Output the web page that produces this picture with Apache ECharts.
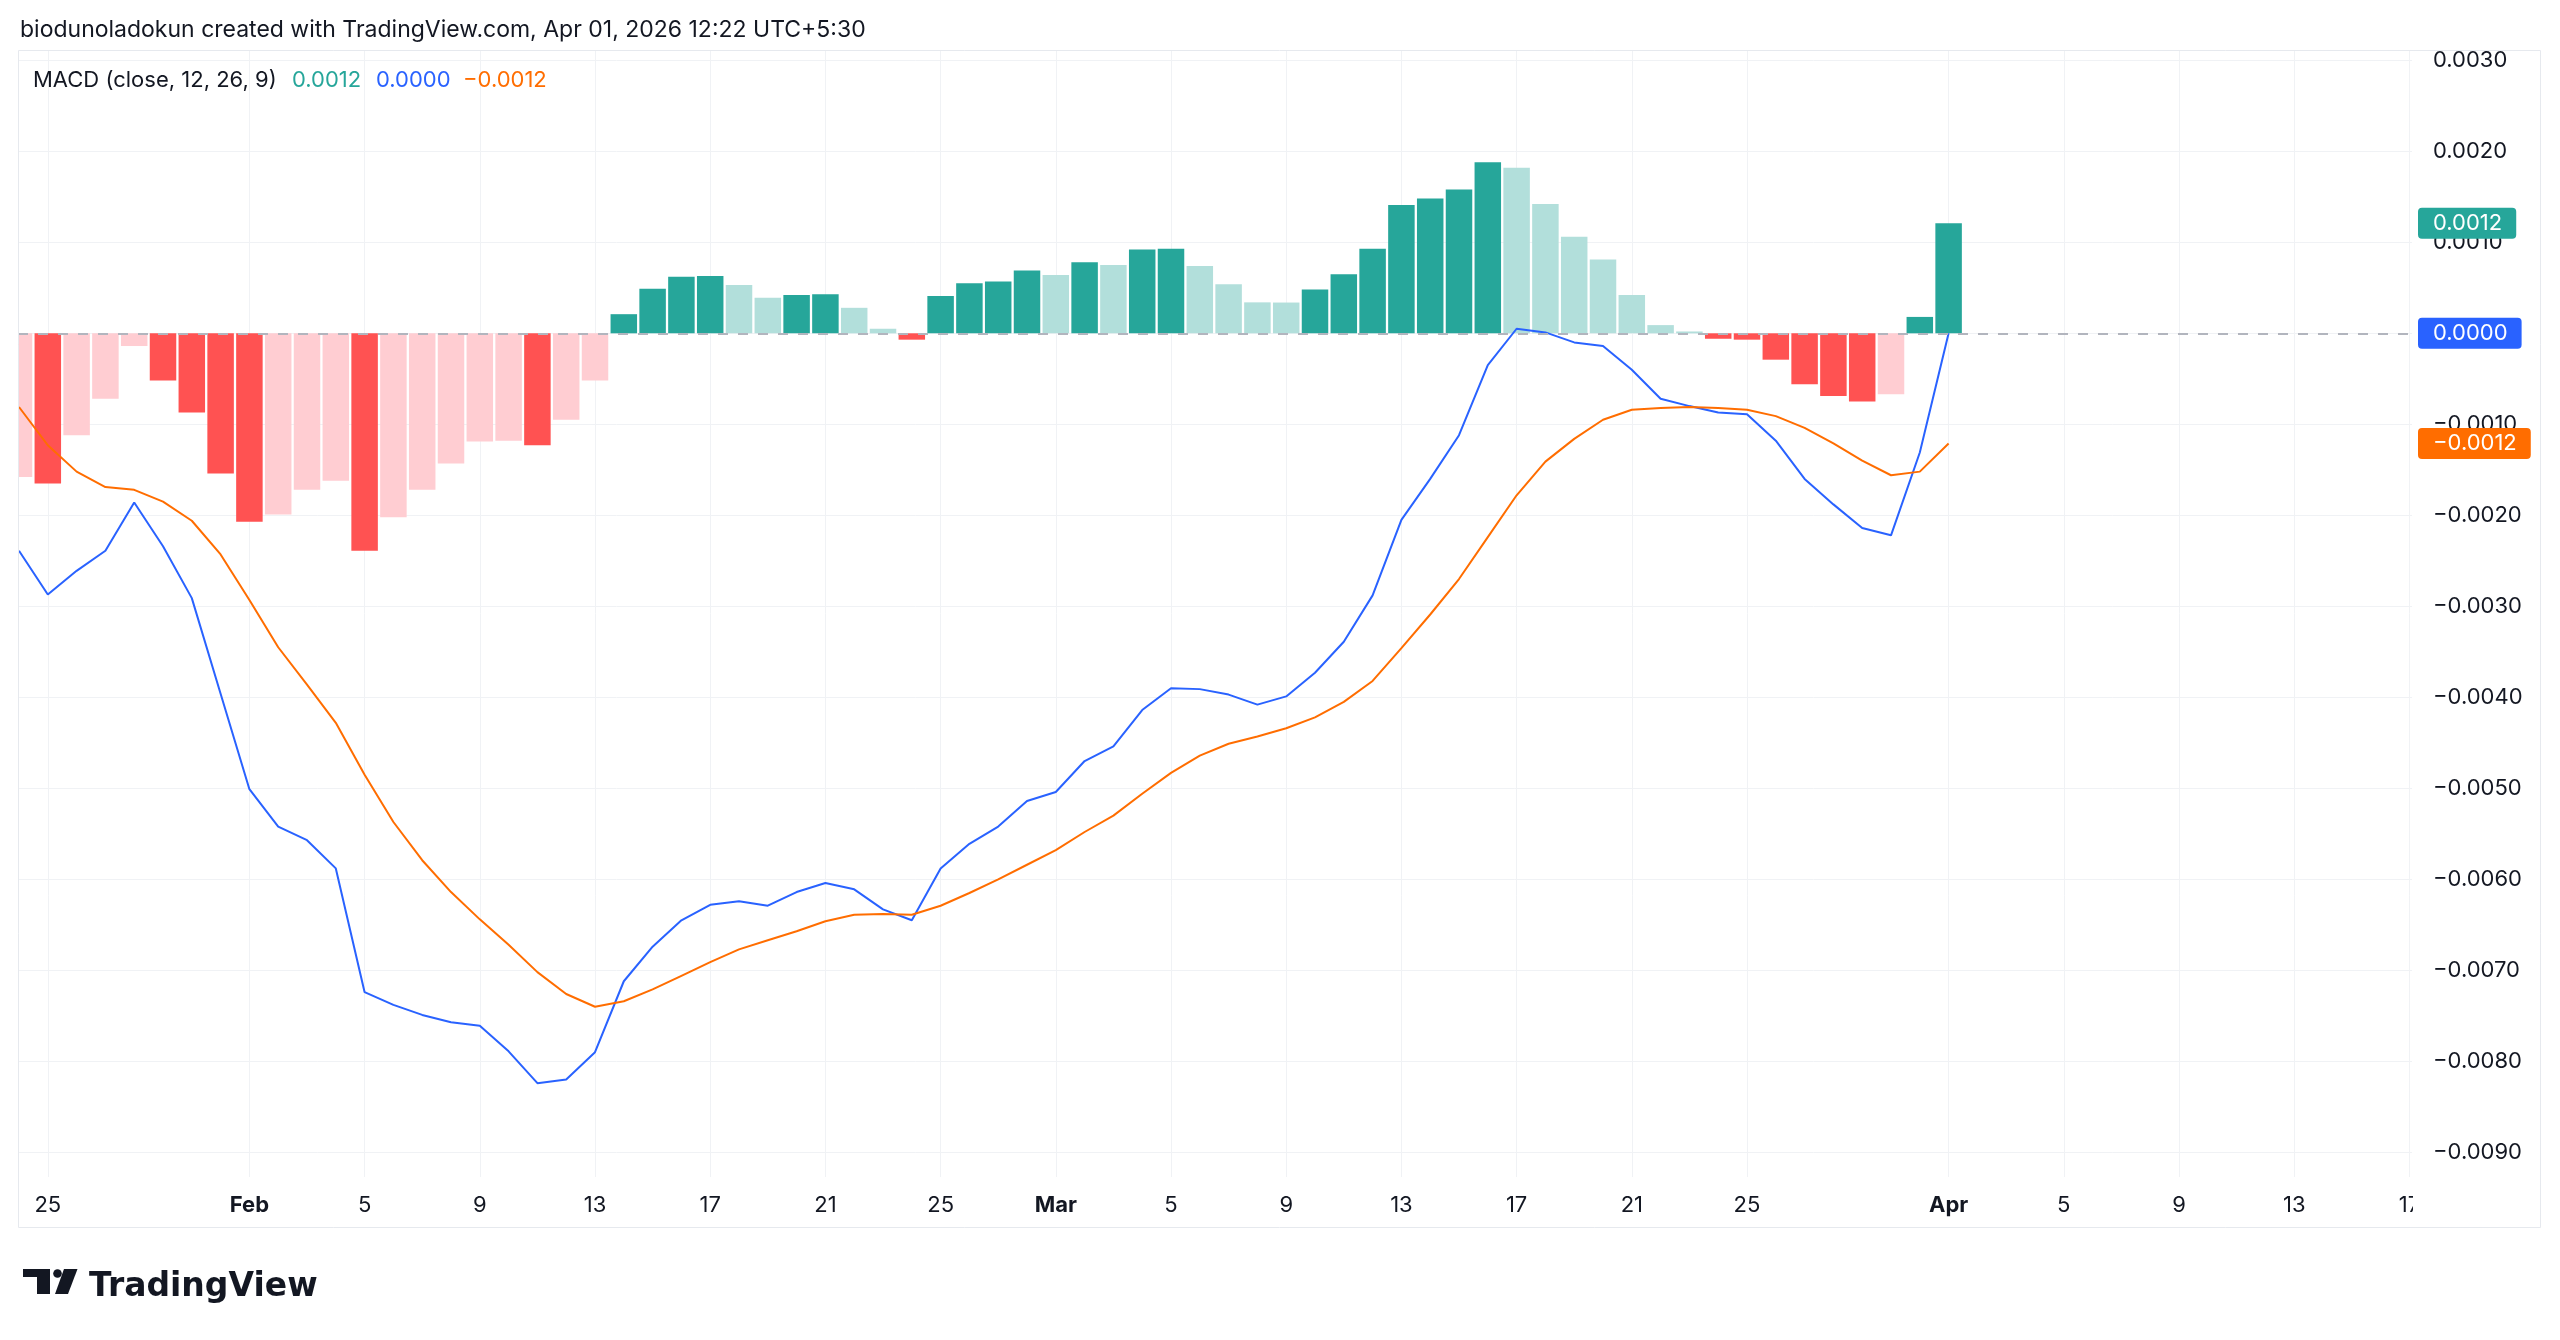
<!DOCTYPE html>
<html>
<head>
<meta charset="utf-8">
<script src="https://cdn.jsdelivr.net/npm/echarts@6/dist/echarts.min.js"></script>
<style>
html,body{margin:0;padding:0;background:#ffffff;}
#chart{width:2560px;height:1340px;}
</style>
</head>
<body>
<div id="chart"></div>
<script>
// ---------------- data ----------------
const dates = [
  '2026-01-24','2026-01-25','2026-01-26','2026-01-27','2026-01-28','2026-01-29','2026-01-30','2026-01-31',
  '2026-02-01','2026-02-02','2026-02-03','2026-02-04','2026-02-05','2026-02-06','2026-02-07','2026-02-08',
  '2026-02-09','2026-02-10','2026-02-11','2026-02-12','2026-02-13','2026-02-14','2026-02-15','2026-02-16',
  '2026-02-17','2026-02-18','2026-02-19','2026-02-20','2026-02-21','2026-02-22','2026-02-23','2026-02-24',
  '2026-02-25','2026-02-26','2026-02-27','2026-02-28','2026-03-01','2026-03-02','2026-03-03','2026-03-04',
  '2026-03-05','2026-03-06','2026-03-07','2026-03-08','2026-03-09','2026-03-10','2026-03-11','2026-03-12',
  '2026-03-13','2026-03-14','2026-03-15','2026-03-16','2026-03-17','2026-03-18','2026-03-19','2026-03-20',
  '2026-03-21','2026-03-22','2026-03-23','2026-03-24','2026-03-25','2026-03-26','2026-03-27','2026-03-28',
  '2026-03-29','2026-03-30','2026-03-31','2026-04-01'
];

const macdLine = [
  -0.00239,-0.00287,-0.00261,-0.00239,-0.00186,-0.00234,-0.00291,-0.00396,
  -0.00501,-0.00542,-0.00557,-0.00588,-0.00724,-0.00738,-0.00749,-0.00757,
  -0.00761,-0.00789,-0.00824,-0.00820,-0.00790,-0.00712,-0.00674,-0.00645,
  -0.00628,-0.00624,-0.00629,-0.00614,-0.00604,-0.00611,-0.00633,-0.00645,
  -0.00588,-0.00561,-0.00542,-0.00514,-0.00504,-0.00470,-0.00454,-0.00414,
  -0.00390,-0.00391,-0.00397,-0.00408,-0.00399,-0.00373,-0.00339,-0.00288,
  -0.00205,-0.00160,-0.00112,-0.00035,0.00005,0.00001,-0.00010,-0.00014,
  -0.00040,-0.00072,-0.00080,-0.00087,-0.00089,-0.00118,-0.00160,-0.00188,
  -0.00214,-0.00222,-0.00131,0.00000
];

const signalLine = [
  -0.00081,-0.00123,-0.00152,-0.00169,-0.00172,-0.00185,-0.00206,-0.00243,
  -0.00293,-0.00345,-0.00386,-0.00428,-0.00485,-0.00537,-0.00579,-0.00614,
  -0.00644,-0.00672,-0.00702,-0.00726,-0.00740,-0.00734,-0.00721,-0.00706,
  -0.00691,-0.00677,-0.00667,-0.00657,-0.00646,-0.00639,-0.00638,-0.00639,
  -0.00629,-0.00615,-0.00600,-0.00584,-0.00568,-0.00548,-0.00530,-0.00506,
  -0.00483,-0.00464,-0.00451,-0.00443,-0.00434,-0.00422,-0.00405,-0.00382,
  -0.00346,-0.00309,-0.00270,-0.00224,-0.00178,-0.00141,-0.00116,-0.00095,
  -0.00084,-0.00082,-0.00081,-0.00082,-0.00084,-0.00091,-0.00104,-0.00121,
  -0.00140,-0.00156,-0.00152,-0.00121
];

const histogram = [
  -0.00158,-0.00165,-0.00112,-0.00072,-0.00014,-0.00052,-0.00087,-0.00154,
  -0.00207,-0.00199,-0.00172,-0.00162,-0.00239,-0.00202,-0.00172,-0.00143,
  -0.00119,-0.00118,-0.00123,-0.00095,-0.00052,0.00021,0.00049,0.00062,
  0.00063,0.00053,0.00039,0.00042,0.00043,0.00028,0.00005,-0.00007,
  0.00041,0.00055,0.00057,0.00069,0.00064,0.00078,0.00075,0.00092,
  0.00093,0.00074,0.00054,0.00034,0.000338,0.00048,0.00065,0.00093,
  0.00141,0.00148,0.00158,0.00188,0.00182,0.00142,0.00106,0.00081,
  0.00042,0.00009,0.00002,-0.00006,-0.00007,-0.00029,-0.00056,-0.00069,
  -0.00075,-0.00067,0.00018,0.00121
];

const tickDates = [
  '2026-01-25','2026-02-01','2026-02-05','2026-02-09','2026-02-13','2026-02-17','2026-02-21','2026-02-25',
  '2026-03-01','2026-03-05','2026-03-09','2026-03-13','2026-03-17','2026-03-21','2026-03-25',
  '2026-04-01','2026-04-05','2026-04-09','2026-04-13','2026-04-17'
];
const tickLabels = ['25','Feb','5','9','13','17','21','25','Mar','5','9','13','17','21','25','Apr','5','9','13','17'];
const monthLabels = ['Feb','Mar','Apr'];

const yTicks = [0.003,0.002,0.001,0,-0.001,-0.002,-0.003,-0.004,-0.005,-0.006,-0.007,-0.008,-0.009];

const headerText = 'biodunoladokun created with TradingView.com, Apr 01, 2026 12:22 UTC+5:30';
const indicatorName = 'MACD (close, 12, 26, 9)';

// ---------------- helpers ----------------
const DAY = 86400000;
const t0 = Date.parse(dates[0] + 'T00:00:00Z');
const dayIndex = d => Math.round((Date.parse(d + 'T00:00:00Z') - t0) / DAY);
const xs = dates.map(dayIndex);
const tickXs = tickDates.map(dayIndex);
const labelAt = {};
tickXs.forEach((x, i) => { labelAt[x] = tickLabels[i]; });

const fmt = v => {
  const s = Math.abs(v).toFixed(4);
  return (v < 0 && s !== '0.0000' ? '\u2212' : '') + s;
};

const C = {
  growAbove: '#26A69A', fallAbove: '#B2DFDB',
  growBelow: '#FFCDD2', fallBelow: '#FF5252',
  macd: '#2962FF', signal: '#FF6D00',
  text: '#131722', grid: '#F0F2F5'
};
const FONT = 'Inter, "Noto Sans", Roboto, sans-serif';

function barColor(i) {
  const v = histogram[i];
  const p = i > 0 ? histogram[i - 1] : (v >= 0 ? Infinity : -Infinity);
  if (v >= 0) return v > p ? C.growAbove : C.fallAbove;
  return v < p ? C.fallBelow : C.growBelow;
}

const last = arr => arr[arr.length - 1];

// ---------------- chart ----------------
const chart = echarts.init(document.getElementById('chart'), null, {renderer: 'canvas'});

const GRID = {left: 18, right: 148, top: 50, bottom: 163};

const option = {
  backgroundColor: '#ffffff',
  animation: false,
  grid: Object.assign({containLabel: false, outerBoundsMode: 'none'}, GRID),
  xAxis: {
    type: 'value',
    min: -0.035,
    max: 83.09,
    axisLine: {show: false},
    axisTick: {show: false, customValues: tickXs},
    splitLine: {show: true, lineStyle: {color: C.grid, width: 1}},
    axisLabel: {
      customValues: tickXs,
      margin: 17,
      hideOverlap: false,
      color: C.text,
      fontFamily: FONT,
      fontSize: 22,
      formatter: v => {
        const l = labelAt[Math.round(v)] || '';
        return monthLabels.indexOf(l) >= 0 ? '{b|' + l + '}' : '{n|' + l + '}';
      },
      rich: {
        b: {fontWeight: 'bold', fontSize: 22, color: C.text, fontFamily: FONT},
        n: {fontSize: 22, color: C.text, fontFamily: FONT}
      }
    }
  },
  yAxis: {
    type: 'value',
    position: 'right',
    min: -0.009271,
    max: 0.003113,
    axisLine: {show: false},
    axisTick: {show: false, customValues: yTicks},
    splitLine: {show: true, lineStyle: {color: C.grid, width: 1}},
    axisLabel: {
      customValues: yTicks,
      margin: 21,
      color: C.text,
      fontFamily: FONT,
      fontSize: 22,
      formatter: v => fmt(v)
    }
  },
  series: [
    {
      name: 'Histogram',
      type: 'bar',
      clip: true,
      barWidth: '92%',
      z: 2,
      data: histogram.map((v, i) => ({value: [xs[i], v], itemStyle: {color: barColor(i)}})),
      markLine: {
        silent: true,
        symbol: ['none', 'none'],
        label: {show: false},
        lineStyle: {color: '#B2B5BE', type: [10, 10], width: 2},
        data: [{yAxis: 0}]
      }
    },
    {
      name: 'MACD',
      type: 'line',
      clip: true,
      z: 3,
      showSymbol: false,
      lineStyle: {color: C.macd, width: 2},
      itemStyle: {color: C.macd},
      data: macdLine.map((v, i) => [xs[i], v])
    },
    {
      name: 'Signal',
      type: 'line',
      clip: true,
      z: 3,
      showSymbol: false,
      lineStyle: {color: C.signal, width: 2},
      itemStyle: {color: C.signal},
      data: signalLine.map((v, i) => [xs[i], v])
    }
  ]
};
chart.setOption(option);

// ---------- overlays: header, indicator legend, price tags, logo ----------
const yPix = v => chart.convertToPixel({yAxisIndex: 0}, v);
const tagX = chart.convertToPixel({xAxisIndex: 0}, option.xAxis.max) + 6;

function tag(value, bg) {
  return {
    type: 'text', x: tagX, y: yPix(value), z: 200,
    style: {
      text: fmt(value), fill: '#ffffff', font: '22px ' + FONT,
      backgroundColor: bg, padding: [5, 14, 4, 15], borderRadius: 4,
      verticalAlign: 'middle', align: 'left'
    }
  };
}

function legendText(x, text, color) {
  return {type: 'text', x: x, y: 80, z: 100,
          style: {text: text, fill: color, font: '22px ' + FONT, verticalAlign: 'middle'}};
}

chart.setOption({
  graphic: [
    // mask the part of the first column that falls left of the pane
    {type: 'rect', z: 90, silent: true, shape: {x: 0, y: 40, width: 18, height: 1150},
     style: {fill: '#ffffff'}},
    // outer frame of the chart pane
    {type: 'rect', z: 95, silent: true, shape: {x: 18.5, y: 50.5, width: 2522, height: 1177},
     style: {fill: 'none', stroke: '#E6E9EE', lineWidth: 1}},
    // cover the time-axis corner under the price scale
    {type: 'rect', z: 100, silent: true, shape: {x: 2413, y: 1179, width: 127, height: 47},
     style: {fill: '#ffffff'}},
    {type: 'text', x: 20, y: 30, z: 100,
     style: {text: headerText, fill: C.text, font: '23px ' + FONT, verticalAlign: 'middle'}},
    legendText(33, indicatorName, C.text),
    legendText(292, fmt(last(histogram)), C.growAbove),
    legendText(376, fmt(last(macdLine)), C.macd),
    legendText(463, fmt(last(signalLine)), C.signal),
    tag(last(histogram), C.growAbove),
    tag(last(macdLine), C.macd),
    tag(last(signalLine), C.signal),
    // TradingView logo
    {type: 'group', z: 100, children: [
      {type: 'rect', shape: {x: 23, y: 1269, width: 27, height: 8}, style: {fill: '#131722'}},
      {type: 'rect', shape: {x: 37, y: 1269, width: 13, height: 25}, style: {fill: '#131722'}},
      {type: 'circle', shape: {cx: 57.5, cy: 1273.5, r: 4.3}, style: {fill: '#131722'}},
      {type: 'polygon', shape: {points: [[64, 1269], [77.5, 1269], [68, 1294], [55, 1294]]}, style: {fill: '#131722'}}
    ]},
    {type: 'text', x: 89, y: 1287, z: 100,
     style: {text: 'TradingView', fill: '#131722', font: 'bold 33px "DejaVu Sans", sans-serif', verticalAlign: 'middle'}}
  ]
});
</script>
</body>
</html>
